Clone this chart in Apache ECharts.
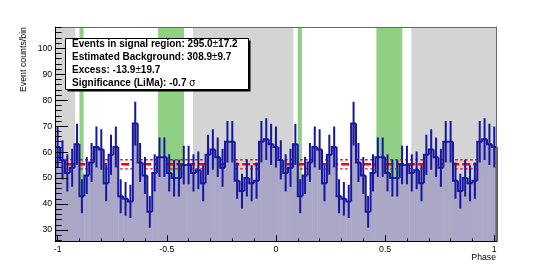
<!DOCTYPE html>
<html><head><meta charset="utf-8">
<script src="https://cdn.jsdelivr.net/npm/echarts@6/dist/echarts.min.js"></script>
<style>html,body{margin:0;padding:0;background:#fff}#c{width:552px;height:269px}</style>
</head><body><div id="c"></div>
<script>
// ---- data ----
const counts = [
  62,57,52,54,63,43,51,56,62,61,48,59,62,43,42,41,71,56,51,37,52,58,58,52,50,
  50,55,55,52,53,48,59,61,58,54,64,64,49,45,50,48,49,64,65,63,
  62,57,52,54,63,43,51,56,62,61,48,59,62,43,42,41,71,56,51,37,52,58,58,52,50,
  50,55,55,52,53,48,59,61,58,54,64,64,49,45,50,48,49,64,65,63,
  62
];
const binWidth = 1 / 45;
const xMin = -1 - binWidth / 2, xMax = 1 + binWidth / 2;
const yMin = 25.5, yMax = 108.2;
const xMajorTicks = [-1, -0.5, 0, 0.5, 1];
const xMinorTicks = [-1, -0.9, -0.8, -0.7, -0.6, -0.5, -0.4, -0.3, -0.2, -0.1, 0, 0.1, 0.2, 0.3, 0.4, 0.5, 0.6, 0.7, 0.8, 0.9, 1];
const yMajorTicks = [30, 40, 50, 60, 70, 80, 90, 100];
const yMinorTicks = [26, 28, 30, 32, 34, 36, 38, 40, 42, 44, 46, 48, 50, 52, 54, 56, 58, 60, 62, 64, 66, 68, 70, 72, 74, 76, 78, 80, 82, 84, 86, 88, 90, 92, 94, 96, 98, 100, 102, 104, 106, 108];
const offRegions = [[xMin, -0.92], [-0.38, 0.08], [0.62, xMax]];
const onRegions = [[-0.9, -0.881], [-0.54, -0.421], [0.1, 0.119], [0.46, 0.579]];
const bgLevel = 55.3, bgErr = 1.75;
const statsLines = [
  ['Events in signal region: 295.0', '±', '17.2'],
  ['Estimated Background: 308.9', '±', '9.7'],
  ['Excess: -13.9', '±', '19.7'],
  ['Significance (LiMa): -0.7 ', 'σ', '']
];
const xTitle = 'Phase', yTitle = 'Event counts/bin';

// ---- style ----
const FONT = "'Liberation Sans', Arial, Helvetica, sans-serif";
const LINE = '#16169e', FILL = '#aaa8c6', GRAY = '#d4d4d4', GREEN = '#90d084', RED = '#ff0000';

const chart = echarts.init(document.getElementById('c'), null, {renderer: 'canvas'});

const histData = counts.map((v, i) => [xMin + (i + 0.5) * binWidth, v]);
const regionData = offRegions.map(r => [r[0], yMin, r[1], 0]).concat(onRegions.map(r => [r[0], yMin, r[1], 1]));
const bgData = [[xMin, bgLevel, 0], [xMin, bgLevel + bgErr, 1], [xMin, bgLevel - bgErr, 1]];

const stats = [];
stats.push({type: 'rect', shape: {x: 67.5, y: 40.5, width: 183, height: 51}, style: {fill: '#000'}, z: 100});
stats.push({type: 'rect', shape: {x: 65.5, y: 38.5, width: 183, height: 51}, style: {fill: '#fff', stroke: '#000', lineWidth: 1}, z: 101});
const rowY = [44, 57.2, 70.5, 83.6];
statsLines.forEach((l, i) => {
  stats.push({type: 'text', x: 72, y: rowY[i], z: 102, style: {
    text: '{b|' + l[0] + '}{n|' + l[1] + '}' + (l[2] ? '{b|' + l[2] + '}' : ''),
    verticalAlign: 'middle', align: 'left',
    rich: {
      b: {fontSize: 10, fontWeight: 'bold', fontFamily: FONT, fill: '#000'},
      n: {fontSize: 10, fontWeight: 'normal', fontFamily: FONT, fill: '#000'}
    }
  }});
});
stats.push({type: 'text', x: 23.5, y: 27, rotation: Math.PI / 2, z: 102, style: {text: yTitle, fontSize: 8.8, fontFamily: FONT, fill: '#000', align: 'right', verticalAlign: 'middle'}});
stats.push({type: 'text', x: 496, y: 257.7, z: 102, style: {text: xTitle, fontSize: 8.7, fontFamily: FONT, fill: '#000', align: 'right', verticalAlign: 'middle'}});

const option = {
  animation: false,
  backgroundColor: '#fff',
  grid: {left: 55.2, top: 27, width: 441.5, height: 214.7, containLabel: false},
  xAxis: [
    {type: 'value', min: xMin, max: xMax, position: 'bottom', z: 10,
     axisLine: {show: true, onZero: false, lineStyle: {color: '#000', width: 1}},
     axisTick: {show: true, inside: true, length: 6.5, customValues: xMajorTicks, lineStyle: {color: '#000', width: 1}},
     axisLabel: {show: true, customValues: xMajorTicks, margin: 3, fontSize: 8.7, color: '#000', fontFamily: FONT, formatter: v => String(v)},
     splitLine: {show: false}},
    {type: 'value', min: xMin, max: xMax, position: 'bottom', z: 10,
     axisLine: {show: false, onZero: false},
     axisTick: {show: true, inside: true, length: 3.3, customValues: xMinorTicks, lineStyle: {color: '#000', width: 1}},
     axisLabel: {show: false}, splitLine: {show: false}},
    {type: 'value', min: xMin, max: xMax, position: 'top', z: 10,
     axisLine: {show: true, onZero: false, lineStyle: {color: '#666', width: 1}},
     axisTick: {show: false}, axisLabel: {show: false}, splitLine: {show: false}}
  ],
  yAxis: [
    {type: 'value', min: yMin, max: yMax, position: 'left', z: 10,
     axisLine: {show: true, onZero: false, lineStyle: {color: '#000', width: 1}},
     axisTick: {show: true, inside: true, length: 13, customValues: yMajorTicks, lineStyle: {color: '#000', width: 1}},
     axisLabel: {show: true, customValues: yMajorTicks, margin: 3, fontSize: 8.7, color: '#000', fontFamily: FONT},
     splitLine: {show: false}},
    {type: 'value', min: yMin, max: yMax, position: 'left', z: 10,
     axisLine: {show: false, onZero: false},
     axisTick: {show: true, inside: true, length: 6.5, customValues: yMinorTicks, lineStyle: {color: '#000', width: 1}},
     axisLabel: {show: false}, splitLine: {show: false}},
    {type: 'value', min: yMin, max: yMax, position: 'right', z: 10,
     axisLine: {show: true, onZero: false, lineStyle: {color: '#666', width: 1}},
     axisTick: {show: false}, axisLabel: {show: false}, splitLine: {show: false}}
  ],
  graphic: stats,
  series: [
    {type: 'custom', z: 1, xAxisIndex: 0, yAxisIndex: 0, silent: true, clip: true,
     encode: {x: 0, y: 1}, data: regionData,
     renderItem(params, api) {
       const a = api.coord([api.value(0), yMax]);
       const b = api.coord([api.value(2), yMin]);
       return {type: 'rect', shape: {x: a[0], y: a[1], width: b[0] - a[0], height: b[1] - a[1]},
               style: {fill: api.value(3) === 0 ? GRAY : GREEN}};
     }},
    {type: 'custom', z: 2, xAxisIndex: 0, yAxisIndex: 0, silent: true, clip: true,
     encode: {x: 0, y: 1}, data: bgData,
     renderItem(params, api) {
       const a = api.coord([xMin, api.value(1)]);
       const b = api.coord([xMax, api.value(1)]);
       const main = api.value(2) === 0;
       return {type: 'line', shape: {x1: a[0], y1: a[1], x2: b[0], y2: b[1]},
               style: {stroke: RED, lineWidth: main ? 2.5 : 1.4, lineDash: main ? [8, 3] : [2.5, 2.5]}};
     }},
    {type: 'custom', z: 3, xAxisIndex: 0, yAxisIndex: 0, silent: true, clip: true,
     encode: {x: 0, y: 1}, data: histData,
     renderItem(params, api) {
       const c = api.value(0), v = api.value(1);
       const p0 = api.coord([c - binWidth / 2, v]);
       const p1 = api.coord([c + binWidth / 2, yMin]);
       return {type: 'rect', shape: {x: p0[0], y: p0[1], width: p1[0] - p0[0] + 0.5, height: p1[1] - p0[1]},
               style: {fill: FILL}};
     }},
    {type: 'custom', z: 4, xAxisIndex: 0, yAxisIndex: 0, silent: true, clip: true,
     encode: {x: 0, y: 1}, data: histData,
     renderItem(params, api) {
       const i = params.dataIndex;
       const c = api.value(0), v = api.value(1);
       const prev = i === 0 ? yMin : counts[i - 1];
       const L = api.coord([c - binWidth / 2, v]);
       const R = api.coord([c + binWidth / 2, v]);
       const Lp = api.coord([c - binWidth / 2, prev]);
       const e = Math.sqrt(v);
       const eT = api.coord([c, v + e]);
       const eB = api.coord([c, v - e]);
       const st = {stroke: LINE, lineWidth: 2, fill: null, lineJoin: 'miter'};
       const ch = [
         {type: 'polyline', shape: {points: [Lp, L, R]}, style: st},
         {type: 'line', shape: {x1: eT[0], y1: eT[1], x2: eB[0], y2: eB[1]}, style: st}
       ];
       if (i === counts.length - 1) {
         const B = api.coord([c + binWidth / 2, yMin]);
         ch.push({type: 'line', shape: {x1: R[0], y1: R[1], x2: B[0], y2: B[1]}, style: st});
       }
       return {type: 'group', children: ch};
     }}
  ]
};
chart.setOption(option);
</script></body></html>
